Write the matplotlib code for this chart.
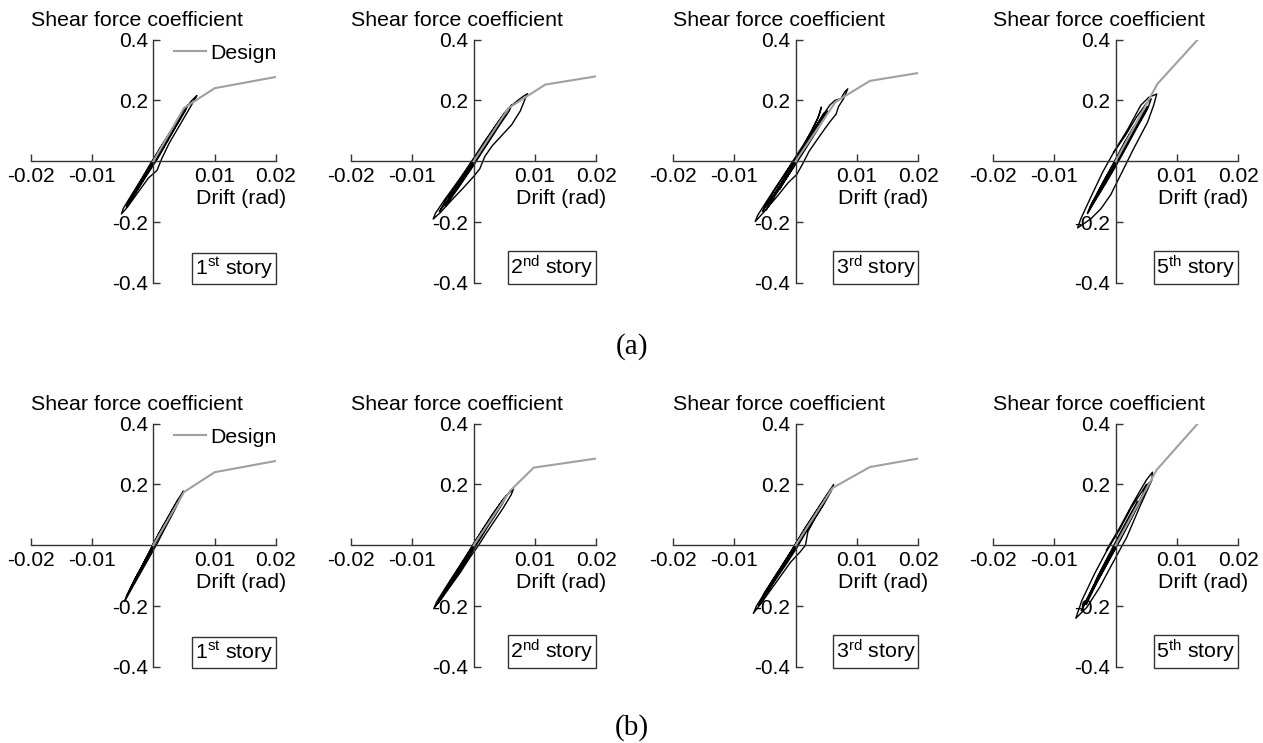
import matplotlib
matplotlib.use("Agg")
import matplotlib.pyplot as plt
from matplotlib.lines import Line2D

plt.rcParams["font.family"] = ["Liberation Sans", "DejaVu Sans"]
plt.rcParams["mathtext.fontset"] = "custom"
plt.rcParams["mathtext.rm"] = "Liberation Sans"
plt.rcParams["mathtext.it"] = "Liberation Sans:italic"
plt.rcParams["axes.unicode_minus"] = False

X_TICKS = [-0.02, -0.01, 0.01, 0.02]
X_TICK_LABELS = ["-0.02", "-0.01", "0.01", "0.02"]
Y_TICKS = [-0.4, -0.2, 0.2, 0.4]
Y_TICK_LABELS = ["-0.4", "-0.2", "0.2", "0.4"]

STORY_LABELS = [r"1$^{\rm st}$ story", r"2$^{\rm nd}$ story",
                r"3$^{\rm rd}$ story", r"5$^{\rm th}$ story"]
ROW_LABELS = ["(a)", "(b)"]

# design backbone curves (drift rad, shear force coefficient)
a1_design_x = [0, 0.0050, 0.0100, 0.0200]
a1_design_y = [0, 0.175, 0.240, 0.277]
a2_design_x = [0, 0.0057, 0.0117, 0.0200]
a2_design_y = [0, 0.175, 0.252, 0.279]
a3_design_x = [0, 0.0065, 0.0121, 0.0200]
a3_design_y = [0, 0.195, 0.264, 0.290]
a4_design_x = [0, 0.0068, 0.0134]
a4_design_y = [0, 0.254, 0.400]

b1_design_x = [0, 0.0050, 0.0100, 0.0200]
b1_design_y = [0, 0.175, 0.240, 0.277]
b2_design_x = [0, 0.0060, 0.0098, 0.0200]
b2_design_y = [0, 0.180, 0.255, 0.285]
b3_design_x = [0, 0.0060, 0.0121, 0.0200]
b3_design_y = [0, 0.188, 0.257, 0.285]
b4_design_x = [0, 0.0067, 0.0134]
b4_design_y = [0, 0.248, 0.400]

# measured hysteresis loops
a1_drift = [0, 0.0012, 0.0030, 0.0048, 0.0062, 0.0068, 0.0071, 0.0066, 0.0058, 0.0042,
            0.0026, 0.0014, 0.0006, -0.0008, -0.0026, -0.0042, -0.0052, -0.0049, -0.0036,
            -0.0020, -0.0006, 0.0010, 0.0028, 0.0044, 0.0056, 0.0052, 0.0036, 0.0020,
            0.0008, -0.0004, -0.0020, -0.0036, -0.0044, -0.0040, -0.0026, -0.0012, 0.0002,
            0.0018, 0.0034, 0.0040, 0.0032, 0.0016, 0.0000, -0.0016, -0.0030, -0.0026,
            -0.0012, 0.0, 0.0016, 0.0028, 0.0022, 0.0008, -0.0010, -0.0022, -0.0016,
            -0.0004, 0.0010, 0.0048, 0.0044, 0.0030, 0.0012, -0.0006, -0.0024, -0.0040,
            -0.0034, -0.0016, 0.0]
a1_force = [0, 0.045, 0.100, 0.160, 0.198, 0.210, 0.216, 0.198, 0.170, 0.115,
            0.060, 0.010, -0.030, -0.055, -0.105, -0.150, -0.173, -0.155, -0.112,
            -0.060, -0.012, 0.040, 0.098, 0.148, 0.185, 0.165, 0.112, 0.055,
            0.012, -0.025, -0.075, -0.125, -0.150, -0.132, -0.085, -0.038, 0.010,
            0.062, 0.112, 0.130, 0.100, 0.045, -0.008, -0.058, -0.105, -0.088,
            -0.040, 0.0, 0.058, 0.095, 0.070, 0.020, -0.040, -0.078, -0.055,
            -0.012, 0.040, 0.158, 0.140, 0.092, 0.030, -0.028, -0.088, -0.138,
            -0.112, -0.050, 0.002]

a2_drift = [0, 0.0015, 0.0032, 0.0048, 0.0060, 0.0072, 0.0082, 0.0088, 0.0084, 0.0076,
            0.0062, 0.0046, 0.0030, 0.0018, 0.0010, 0.0000, -0.0018, -0.0036, -0.0054,
            -0.0066, -0.0062, -0.0048, -0.0030, -0.0014, 0.0000, 0.0016, 0.0034, 0.0050,
            0.0062, 0.0058, 0.0042, 0.0026, 0.0012, -0.0002, -0.0018, -0.0036, -0.0052,
            -0.0056, -0.0046, -0.0030, -0.0014, 0.0002, 0.0020, 0.0036, 0.0046, 0.0040,
            0.0024, 0.0008, -0.0008, -0.0026, -0.0040, -0.0034, -0.0018, 0.0, 0.0018,
            0.0030, 0.0026, 0.0010, -0.0010, -0.0028, -0.0022, -0.0006, 0.0012, 0.0040,
            0.0054, 0.0050, 0.0034, 0.0016, -0.0004, -0.0024, -0.0046, -0.0042, -0.0024,
            -0.0006, 0.0]
a2_force = [0, 0.052, 0.105, 0.150, 0.180, 0.200, 0.215, 0.222, 0.205, 0.165,
            0.120, 0.085, 0.050, 0.015, -0.025, -0.050, -0.090, -0.128, -0.168,
            -0.190, -0.170, -0.128, -0.078, -0.032, 0.010, 0.060, 0.112, 0.158,
            0.185, 0.165, 0.118, 0.068, 0.025, -0.018, -0.062, -0.112, -0.155,
            -0.165, -0.130, -0.085, -0.038, 0.012, 0.065, 0.112, 0.140, 0.118,
            0.068, 0.018, -0.030, -0.082, -0.122, -0.100, -0.052, 0.0, 0.060,
            0.098, 0.080, 0.028, -0.038, -0.092, -0.070, -0.015, 0.042, 0.128,
            0.165, 0.148, 0.098, 0.040, -0.025, -0.085, -0.148, -0.130, -0.072,
            -0.012, 0.005]

a3_drift = [0, 0.0014, 0.0030, 0.0044, 0.0056, 0.0064, 0.0074, 0.0080, 0.0085, 0.0078,
            0.0070, 0.0066, 0.0058, 0.0048, 0.0034, 0.0022, 0.0011, 0.0002, -0.0012,
            -0.0030, -0.0048, -0.0060, -0.0066, -0.0062, -0.0050, -0.0034, -0.0018,
            -0.0004, 0.0012, 0.0026, 0.0038, 0.0042, 0.0036, 0.0022, 0.0008, -0.0006,
            -0.0022, -0.0040, -0.0054, -0.0050, -0.0036, -0.0020, -0.0004, 0.0012,
            0.0028, 0.0040, 0.0052, 0.0048, 0.0032, 0.0016, 0.0000, -0.0016, -0.0032,
            -0.0040, -0.0030, -0.0014, 0.0, 0.0016, 0.0030, 0.0026, 0.0010, -0.0010,
            -0.0026, -0.0020, -0.0004, 0.0014, 0.0034, 0.0046, 0.0042, 0.0026, 0.0008,
            -0.0012, -0.0034, -0.0048, -0.0044, -0.0026, -0.0008, 0.0]
a3_force = [0, 0.050, 0.105, 0.150, 0.185, 0.200, 0.206, 0.228, 0.238, 0.205,
            0.180, 0.155, 0.135, 0.108, 0.068, 0.033, -0.010, -0.043, -0.070,
            -0.115, -0.158, -0.185, -0.198, -0.178, -0.140, -0.090, -0.042,
            0.002, 0.052, 0.100, 0.150, 0.178, 0.140, 0.085, 0.030, -0.020,
            -0.070, -0.122, -0.165, -0.148, -0.100, -0.050, 0.000, 0.045,
            0.095, 0.130, 0.165, 0.145, 0.092, 0.040, -0.010, -0.058, -0.105,
            -0.128, -0.092, -0.042, 0.0, 0.058, 0.105, 0.085, 0.030, -0.040,
            -0.092, -0.068, -0.010, 0.050, 0.118, 0.158, 0.138, 0.082, 0.022,
            -0.045, -0.115, -0.160, -0.142, -0.082, -0.020, 0.005]

a4_drift = [-0.0003, 0.0020, 0.0041, 0.0054, 0.0067, 0.0062, 0.0052, 0.0029, 0.0013,
            -0.0008, -0.0024, -0.0041, -0.0062, -0.0057, -0.0041, -0.0021, -0.0003,
            0.0016, 0.0034, 0.0050, 0.0058, 0.0052, 0.0036, 0.0018, 0.0002, -0.0016,
            -0.0032, -0.0044, -0.0038, -0.0022, -0.0006, 0.0010, 0.0026, 0.0040,
            0.0046, 0.0040, 0.0024, 0.0008, -0.0008, -0.0022, -0.0034, -0.0030,
            -0.0016, 0.0, 0.0014, 0.0030, 0.0026, 0.0010, -0.0010, -0.0026, -0.0020,
            -0.0004, 0.0016, 0.0036, 0.0052, 0.0048, 0.0030, 0.0012, -0.0008, -0.0028,
            -0.0046, -0.0042, -0.0024, -0.0006, 0.0]
a4_force = [0.030, 0.106, 0.184, 0.210, 0.221, 0.184, 0.128, 0.040, -0.025,
            -0.110, -0.156, -0.190, -0.219, -0.190, -0.120, -0.035, 0.030,
            0.085, 0.145, 0.190, 0.205, 0.172, 0.115, 0.048, -0.010, -0.072,
            -0.125, -0.165, -0.135, -0.075, -0.015, 0.045, 0.100, 0.148,
            0.165, 0.135, 0.078, 0.020, -0.040, -0.088, -0.128, -0.105,
            -0.052, 0.0, 0.060, 0.115, 0.092, 0.035, -0.045, -0.100, -0.075,
            -0.012, 0.062, 0.130, 0.180, 0.160, 0.098, 0.035, -0.035, -0.105,
            -0.172, -0.150, -0.085, -0.020, 0.005]

b1_drift = [0, 0.0012, 0.0026, 0.0040, 0.0049, 0.0045, 0.0032, 0.0018, 0.0006, -0.0008,
            -0.0022, -0.0036, -0.0047, -0.0043, -0.0030, -0.0016, -0.0002, 0.0012, 0.0026,
            0.0036, 0.0032, 0.0020, 0.0006, -0.0008, -0.0022, -0.0034, -0.0030, -0.0016,
            -0.0002, 0.0012, 0.0022, 0.0018, 0.0006, -0.0008, -0.0018, -0.0012, 0.0,
            0.0010, 0.0030, 0.0040, 0.0036, 0.0022, 0.0008, -0.0006, -0.0024, -0.0040,
            -0.0036, -0.0020, -0.0004, 0.0014, 0.0016, 0.0004, -0.0012, -0.0008, 0.0]
b1_force = [0.005, 0.050, 0.100, 0.150, 0.178, 0.158, 0.105, 0.052, 0.005, -0.045,
            -0.095, -0.145, -0.185, -0.162, -0.112, -0.058, -0.005, 0.048, 0.098,
            0.135, 0.115, 0.068, 0.018, -0.035, -0.085, -0.128, -0.110, -0.060,
            -0.008, 0.045, 0.082, 0.062, 0.018, -0.032, -0.070, -0.045, 0.005,
            0.042, 0.112, 0.148, 0.130, 0.078, 0.025, -0.028, -0.092, -0.155,
            -0.135, -0.075, -0.012, 0.055, 0.058, 0.012, -0.048, -0.030, 0.002]

b2_drift = [0, 0.0014, 0.0030, 0.0046, 0.0058, 0.0065, 0.0061, 0.0048, 0.0034, 0.0020,
            0.0008, -0.0006, -0.0022, -0.0038, -0.0054, -0.0065, -0.0060, -0.0046, -0.0030,
            -0.0014, 0.0002, 0.0018, 0.0034, 0.0048, 0.0054, 0.0048, 0.0034, 0.0022,
            0.0008, -0.0008, -0.0024, -0.0040, -0.0052, -0.0048, -0.0034, -0.0018,
            -0.0002, 0.0014, 0.0030, 0.0040, 0.0034, 0.0020, 0.0006, -0.0010, -0.0026,
            -0.0036, -0.0030, -0.0016, 0.0, 0.0016, 0.0034, 0.0050, 0.0046, 0.0030,
            0.0014, -0.0004, -0.0022, -0.0042, -0.0058, -0.0054, -0.0038, -0.0020,
            -0.0004, 0.0010, 0.0024, 0.0020, 0.0006, -0.0010, -0.0006, 0.0]
b2_force = [0.005, 0.050, 0.100, 0.145, 0.172, 0.185, 0.165, 0.122, 0.080, 0.038,
            0.000, -0.040, -0.090, -0.135, -0.180, -0.208, -0.185, -0.140, -0.090,
            -0.040, 0.010, 0.060, 0.108, 0.150, 0.165, 0.140, 0.095, 0.058,
            0.012, -0.038, -0.088, -0.135, -0.172, -0.150, -0.105, -0.055,
            -0.005, 0.045, 0.095, 0.125, 0.102, 0.058, 0.012, -0.040, -0.090,
            -0.120, -0.098, -0.050, 0.005, 0.055, 0.110, 0.155, 0.138, 0.088,
            0.040, -0.020, -0.078, -0.140, -0.190, -0.172, -0.122, -0.065,
            -0.012, 0.035, 0.078, 0.062, 0.015, -0.038, -0.022, 0.005]

b3_drift = [0, 0.0014, 0.0030, 0.0044, 0.0056, 0.0062, 0.0058, 0.0046, 0.0032, 0.0020,
            0.0016, 0.0006, -0.0008, -0.0024, -0.0040, -0.0056, -0.0069, -0.0064, -0.0050,
            -0.0034, -0.0018, -0.0002, 0.0014, 0.0030, 0.0044, 0.0050, 0.0044, 0.0030,
            0.0016, 0.0002, -0.0014, -0.0030, -0.0046, -0.0056, -0.0052, -0.0038,
            -0.0022, -0.0006, 0.0010, 0.0026, 0.0036, 0.0030, 0.0016, 0.0000, -0.0016,
            -0.0032, -0.0042, -0.0036, -0.0020, 0.0, 0.0016, 0.0034, 0.0052, 0.0048,
            0.0032, 0.0016, -0.0002, -0.0020, -0.0040, -0.0060, -0.0056, -0.0040,
            -0.0022, -0.0004, 0.0012, 0.0024, 0.0020, 0.0006, -0.0010, 0.0]
b3_force = [0.005, 0.052, 0.102, 0.145, 0.182, 0.200, 0.178, 0.135, 0.090, 0.045,
            0.000, -0.025, -0.055, -0.100, -0.145, -0.190, -0.224, -0.200, -0.155,
            -0.105, -0.055, -0.005, 0.045, 0.095, 0.138, 0.155, 0.130, 0.085,
            0.040, -0.008, -0.058, -0.105, -0.152, -0.182, -0.160, -0.115,
            -0.065, -0.015, 0.035, 0.085, 0.115, 0.092, 0.045, -0.005, -0.058,
            -0.105, -0.135, -0.112, -0.062, 0.005, 0.058, 0.112, 0.168, 0.150,
            0.098, 0.048, -0.010, -0.068, -0.135, -0.198, -0.180, -0.128,
            -0.070, -0.012, 0.040, 0.078, 0.062, 0.018, -0.038, 0.005]

b4_drift = [-0.0015, 0.0007, 0.0028, 0.0050, 0.0060, 0.0059, 0.0039, 0.0018, -0.0005,
            -0.0026, -0.0047, -0.0065, -0.0055, -0.0034, -0.0015, 0.0006, 0.0026, 0.0044,
            0.0050, 0.0044, 0.0028, 0.0010, -0.0010, -0.0030, -0.0048, -0.0044, -0.0030,
            -0.0012, 0.0006, 0.0022, 0.0036, 0.0030, 0.0014, -0.0004, -0.0020, -0.0034,
            -0.0028, -0.0012, 0.0, 0.0016, 0.0034, 0.0054, 0.0050, 0.0032, 0.0014,
            -0.0004, -0.0024, -0.0044, -0.0056, -0.0050, -0.0034, -0.0016, 0.0002,
            0.0020, 0.0028, 0.0022, 0.0006, -0.0012, -0.0006, 0.0]
b4_force = [-0.016, 0.059, 0.138, 0.214, 0.240, 0.214, 0.125, 0.026, -0.059,
            -0.138, -0.204, -0.240, -0.181, -0.092, -0.020, 0.050, 0.125, 0.180,
            0.200, 0.165, 0.100, 0.030, -0.045, -0.120, -0.195, -0.170, -0.105,
            -0.035, 0.035, 0.095, 0.145, 0.115, 0.050, -0.015, -0.075, -0.130,
            -0.100, -0.040, 0.0, 0.062, 0.128, 0.205, 0.182, 0.112, 0.042,
            -0.025, -0.098, -0.170, -0.215, -0.188, -0.125, -0.055, 0.012,
            0.078, 0.105, 0.080, 0.018, -0.048, -0.022, 0.005]

panels = [
    [(a1_design_x, a1_design_y, a1_drift, a1_force),
     (a2_design_x, a2_design_y, a2_drift, a2_force),
     (a3_design_x, a3_design_y, a3_drift, a3_force),
     (a4_design_x, a4_design_y, a4_drift, a4_force)],
    [(b1_design_x, b1_design_y, b1_drift, b1_force),
     (b2_design_x, b2_design_y, b2_drift, b2_force),
     (b3_design_x, b3_design_y, b3_drift, b3_force),
     (b4_design_x, b4_design_y, b4_drift, b4_force)],
]

DESIGN_COLOR = "#a0a0a0"
col_left = [30.7 / 1263, 351 / 1263, 673 / 1263, 993 / 1263]
row_bottom = [(743 - 283) / 743, (743 - 667) / 743]
ax_w = 245.3 / 1263
ax_h = 243.5 / 743
row_label_y = [1 - 347 / 743, 1 - 728 / 743]

fig = plt.figure(figsize=(12.63, 7.43), dpi=100)

for r, row in enumerate(panels):
    for c, (dx, dy, drift, force) in enumerate(row):
        ax = fig.add_axes([col_left[c], row_bottom[r], ax_w, ax_h])
        ax.plot(drift, force, color="black", lw=1.0, zorder=2)
        ax.plot(dx, dy, color=DESIGN_COLOR, lw=1.5, zorder=3)

        ax.set_xlim(-0.02, 0.02)
        ax.set_ylim(-0.4, 0.4)
        for side in ["top", "right"]:
            ax.spines[side].set_visible(False)
        ax.spines["left"].set_position(("data", 0))
        ax.spines["bottom"].set_position(("data", 0))
        for side in ["left", "bottom"]:
            ax.spines[side].set_color("#333333")
            ax.spines[side].set_linewidth(1.0)
        ax.patch.set_visible(False)

        ax.set_xticks(X_TICKS)
        ax.set_xticklabels(X_TICK_LABELS)
        ax.set_yticks(Y_TICKS)
        ax.set_yticklabels(Y_TICK_LABELS)
        ax.tick_params(direction="in", length=5, width=1, color="#333333",
                       labelsize=15, pad=4)

        ax.text(0.434, 1.078, "Shear force coefficient", transform=ax.transAxes,
                ha="center", va="center", fontsize=15.4)
        ax.text(1.04, 0.345, "Drift (rad)", transform=ax.transAxes,
                ha="right", va="center", fontsize=15.4)
        ax.text(0.99, 0.008, STORY_LABELS[c], transform=ax.transAxes,
                ha="right", va="bottom", fontsize=15.4,
                bbox=dict(boxstyle="square,pad=0.12", fc="white", ec="#333333", lw=1))

        if c == 0:
            handle = Line2D([], [], color=DESIGN_COLOR, lw=1.5)
            ax.legend([handle], ["Design"], loc="upper right", frameon=False,
                      fontsize=15.4, handlelength=1.5, handletextpad=0.2,
                      borderaxespad=0.0, borderpad=0.2, bbox_to_anchor=(1.02, 1.0))

for r, lab in enumerate(ROW_LABELS):
    fig.text(632 / 1263, row_label_y[r], lab, ha="center", va="center",
             fontsize=21, family="Liberation Serif")

fig.savefig("out.png", dpi=100)
